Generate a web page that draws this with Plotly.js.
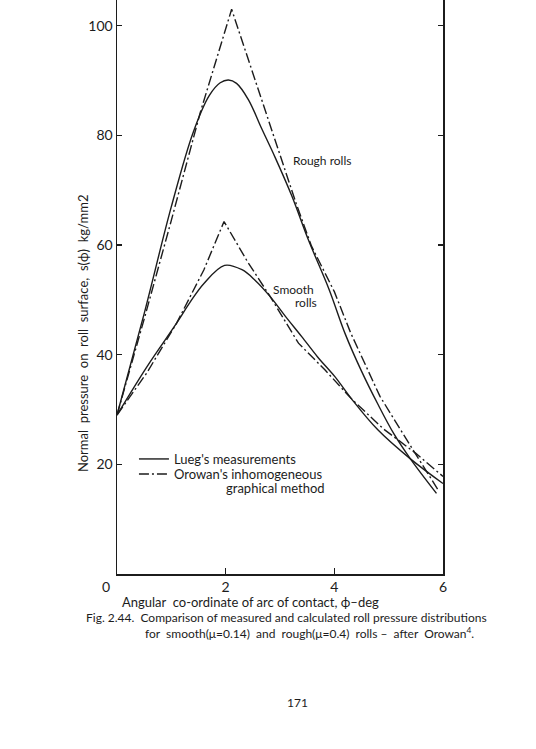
<!DOCTYPE html>
<html>
<head>
<meta charset="utf-8">
<script src="https://cdn.plot.ly/plotly-3.0.1.min.js"></script>
<style>
html,body{margin:0;padding:0;background:#fff;}
#chart{width:536px;height:749px;}
</style>
</head>
<body>
<div id="chart"></div>
<script>
// ---- data ----
const roughMeasX = [0, 0.5, 1.0, 1.4, 1.7, 1.9, 2.05, 2.2, 2.42, 2.66, 2.91, 3.22, 3.52, 3.9, 4.2, 4.5, 4.8, 5.1, 5.4, 5.88];
const roughMeasY = [29, 47.5, 67, 80.5, 87.3, 89.6, 90.1, 89.5, 86.5, 81.3, 76, 68.9, 61, 52, 43.8, 37, 31, 25.5, 21, 14.7];

const roughOroX = [0, 0.5, 1.0, 1.53, 2.11, 2.42, 2.72, 3.03, 3.3, 3.58, 4.0, 4.3, 4.84, 5.45, 5.9];
const roughOroY = [29, 46.5, 64.5, 84.1, 103, 93.8, 84.7, 75.5, 67.5, 59.8, 51.5, 44, 32.4, 22.6, 15.5];

const smoothMeasX = [0, 0.55, 1.1, 1.34, 1.6, 1.98, 2.3, 2.54, 2.82, 3.1, 3.4, 3.7, 4.01, 4.32, 4.8, 5.4, 6.0];
const smoothMeasY = [29, 37.8, 45.8, 49.5, 53, 56.3, 55.5, 53.6, 50.6, 47, 43.3, 39.5, 36, 31.9, 26.3, 21, 16.5];

const smoothOroX = [0, 0.55, 1.1, 1.34, 1.6, 1.97, 2.4, 2.82, 3.34, 3.83, 4.32, 4.9, 5.5, 6.0];
const smoothOroY = [29, 36.7, 45.8, 50.6, 55.5, 64.3, 57, 50.6, 42.1, 37.2, 31.9, 26.5, 22, 17.8];

const xTickVals = [0, 2, 4, 6];
const xTickText = ['0', '2', '4', '6'];
const yTickVals = [20, 40, 60, 80, 100];
const yTickText = ['20', '40', '60', '80', '100'];

const legendNames = ["Lueg's measurements", "Orowan's inhomogeneous"];
const legendExtra = 'graphical method';
const curveLabels = ['Rough rolls', 'Smooth', 'rolls'];
const yTitle = 'Normal\u00a0 pressure\u00a0 on\u00a0 roll\u00a0 surface,\u00a0 s(\u03d5)\u00a0 kg/mm2';
const xTitle = 'Angular\u00a0 co-ordinate of arc of contact, \u03d5\u2013deg';
const caption1 = 'Fig. 2.44.\u00a0 Comparison of measured and calculated roll pressure distributions';
const caption2 = 'for\u00a0 smooth(\u03bc=0.14)\u00a0 and\u00a0 rough(\u03bc=0.4)\u00a0 rolls\u00a0\u2013\u00a0 after\u00a0 Orowan<sup>4</sup>.';
const pageNumber = '171';

// ---- styling ----
const ink = '#1c1c1c';
const dashDot = '10px,3px,2px,3px';
const FONT = 'Lato, "DejaVu Sans", sans-serif';
const lineW = 1.4;

const traces = [
  {x: roughMeasX, y: roughMeasY, mode: 'lines', name: legendNames[0], legend: 'legend',
   line: {color: ink, width: lineW, shape: 'spline', smoothing: 1}, showlegend: true},
  {x: roughOroX, y: roughOroY, mode: 'lines', name: legendNames[1], legend: 'legend2',
   line: {color: ink, width: lineW, dash: dashDot}, showlegend: true},
  {x: smoothMeasX, y: smoothMeasY, mode: 'lines', name: 'smooth measured',
   line: {color: ink, width: lineW, shape: 'spline', smoothing: 1}, showlegend: false},
  {x: smoothOroX, y: smoothOroY, mode: 'lines', name: 'smooth Orowan',
   line: {color: ink, width: lineW, dash: dashDot}, showlegend: false}
];

const legendBase = {xanchor: 'left', yanchor: 'top', bgcolor: 'rgba(0,0,0,0)', borderwidth: 0,
  font: {family: FONT, size: 13, color: ink}, itemwidth: 30};

const ann = (o) => Object.assign({showarrow: false, xanchor: 'center', yanchor: 'middle',
  font: {family: FONT, size: 13, color: ink}}, o);

const layout = {
  width: 536, height: 749,
  margin: {l: 117, r: 93, t: 0, b: 175, pad: 0},
  paper_bgcolor: '#ffffff', plot_bgcolor: '#ffffff',
  font: {family: FONT, size: 13, color: ink},
  showlegend: true,
  legend: Object.assign({x: 0.052, y: 0.2265}, legendBase),
  legend2: Object.assign({x: 0.052, y: 0.2003}, legendBase),
  xaxis: {range: [0, 6], showgrid: false, zeroline: false, showline: true, linecolor: ink, linewidth: 1.5,
          mirror: false, ticks: 'inside', ticklen: 6, tickcolor: ink, tickwidth: 1.3,
          tickvals: xTickVals, ticktext: xTickText.map((t, i) => i === 0 ? '' : t),
          tickfont: {family: FONT, size: 14, color: ink}},
  yaxis: {range: [0, 104.7], showgrid: false, zeroline: false, showline: true, linecolor: ink, linewidth: 1.5,
          mirror: 'ticks', ticks: 'inside', ticklen: 5, tickcolor: ink, tickwidth: 1.3,
          tickvals: yTickVals, ticktext: yTickText,
          tickfont: {family: FONT, size: 14, color: ink}},
  annotations: [
    ann({x: -0.034, y: -0.0226, xref: 'paper', yref: 'paper', text: xTickText[0], font: {family: FONT, size: 14, color: ink}}),
    ann({x: -0.1043, y: 0.4199, xref: 'paper', yref: 'paper', text: yTitle, textangle: -90}),
    ann({x: 0.411, y: -0.0485, xref: 'paper', yref: 'paper', text: xTitle}),
    ann({x: 0.52, y: -0.0765, xref: 'paper', yref: 'paper', text: caption1, font: {family: FONT, size: 12, color: ink}}),
    ann({x: 0.592, y: -0.1025, xref: 'paper', yref: 'paper', text: caption2, font: {family: FONT, size: 12, color: ink}}),
    ann({x: 0.555, y: -0.2247, xref: 'paper', yref: 'paper', text: pageNumber, font: {family: FONT, size: 12, color: ink}}),
    ann({x: 0.328, y: 0.1505, xref: 'paper', yref: 'paper', text: legendExtra, xanchor: 'left'}),
    ann({x: 3.2, y: 75.4, xref: 'x', yref: 'y', text: curveLabels[0], xanchor: 'left', font: {family: FONT, size: 12, color: ink}}),
    ann({x: 2.84, y: 51.9, xref: 'x', yref: 'y', text: curveLabels[1], xanchor: 'left', font: {family: FONT, size: 12, color: ink}}),
    ann({x: 3.24, y: 49.6, xref: 'x', yref: 'y', text: curveLabels[2], xanchor: 'left', font: {family: FONT, size: 12, color: ink}})
  ]
};

Plotly.newPlot('chart', traces, layout, {displayModeBar: false, staticPlot: true});
</script>
</body>
</html>
